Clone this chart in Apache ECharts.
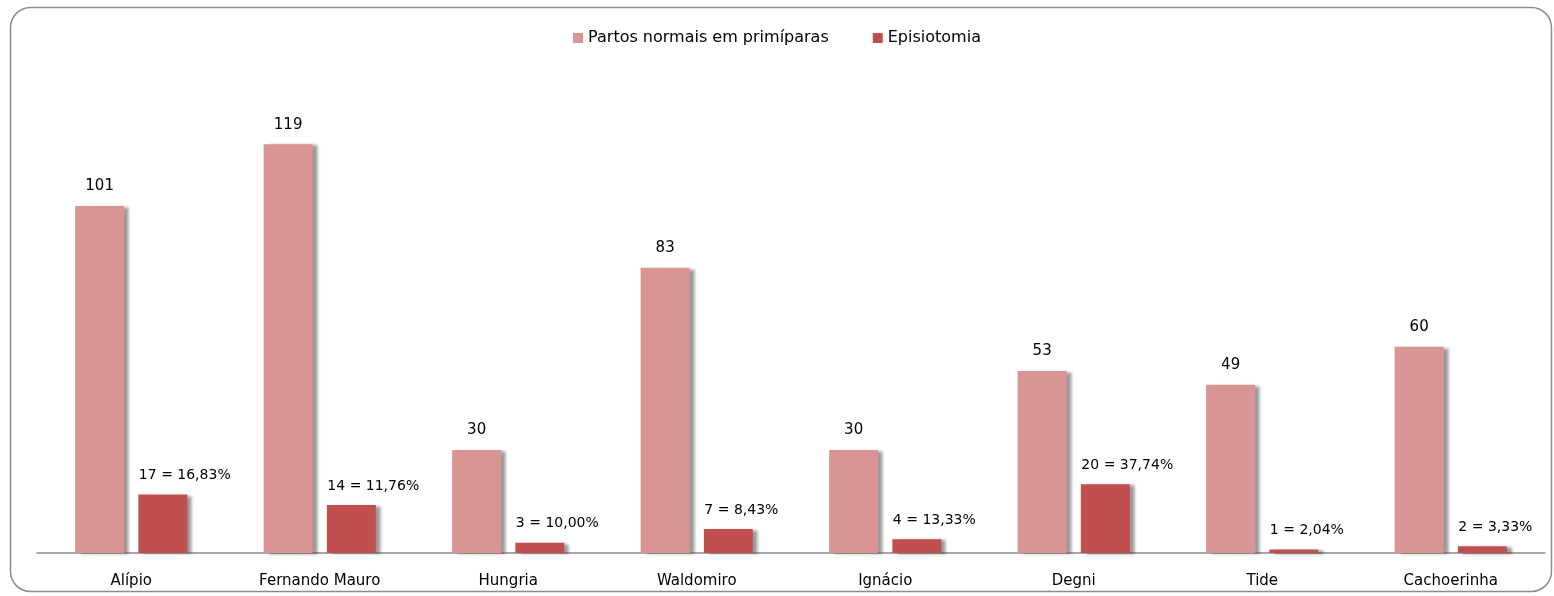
<!DOCTYPE html>
<html>
<head>
<meta charset="utf-8">
<script src="https://cdn.jsdelivr.net/npm/echarts@6/dist/echarts.min.js"></script>
<style>
  html, body { margin: 0; padding: 0; background: #fff; }
  #chart { width: 1554px; height: 596px; }
</style>
</head>
<body>
<div id="chart"></div>
<script>
  // dados
  var unidades = ['Alípio', 'Fernando Mauro', 'Hungria', 'Waldomiro', 'Ignácio', 'Degni', 'Tide', 'Cachoerinha'];
  var partosNormais = [101, 119, 30, 83, 30, 53, 49, 60];
  var episiotomia = [17, 14, 3, 7, 4, 20, 1, 2];
  var episiotomiaPct = ['16,83%', '11,76%', '10,00%', '8,43%', '13,33%', '37,74%', '2,04%', '3,33%'];

  var fonte = '"DejaVu Sans", "Noto Sans", sans-serif';
  // sombra à direita das barras
  var sombra = {
    shadowColor: 'rgba(0,0,0,0.4)',
    shadowBlur: 3,
    shadowOffsetX: 5,
    shadowOffsetY: 1
  };

  var myChart = echarts.init(document.getElementById('chart'));
  myChart.setOption({
    animation: false,
    textStyle: { fontFamily: fonte },
    graphic: [{
      type: 'rect',
      shape: { x: 10.5, y: 7.5, width: 1541, height: 584, r: 20 },
      style: { fill: 'none', stroke: '#8c8c8c', lineWidth: 1.5 },
      silent: true
    }],
    legend: {
      top: 25,
      left: 'center',
      itemWidth: 10,
      itemHeight: 10,
      itemGap: 44,
      icon: 'rect',
      textStyle: { fontSize: 16, color: '#000', fontFamily: fonte },
      data: ['Partos normais em primíparas', 'Episiotomia']
    },
    grid: { left: 37, right: 9, top: 72, bottom: 43 },
    xAxis: {
      type: 'category',
      data: unidades,
      axisLine: { lineStyle: { color: '#8c8c8c', width: 1.5 } },
      axisTick: { show: false },
      axisLabel: { fontSize: 15, color: '#000', margin: 21, fontFamily: fonte }
    },
    yAxis: {
      type: 'value',
      min: 0,
      max: 140,
      show: false,
      splitLine: { show: false }
    },
    series: [{
      name: 'Partos normais em primíparas',
      type: 'bar',
      barWidth: '26%',
      barGap: '29%',
      data: partosNormais,
      itemStyle: Object.assign({ color: '#D99594' }, sombra),
      label: {
        show: true,
        position: 'top',
        distance: 12,
        fontSize: 15,
        color: '#000',
        fontFamily: fonte
      }
    }, {
      name: 'Episiotomia',
      type: 'bar',
      barWidth: '26%',
      data: episiotomia,
      itemStyle: Object.assign({ color: '#C0504D' }, sombra),
      label: {
        show: true,
        position: 'top',
        align: 'left',
        offset: [-24, 0],
        distance: 12,
        fontSize: 14,
        color: '#000',
        fontFamily: fonte,
        formatter: function (p) {
          return p.value + ' = ' + episiotomiaPct[p.dataIndex];
        }
      }
    }]
  });
</script>
</body>
</html>
